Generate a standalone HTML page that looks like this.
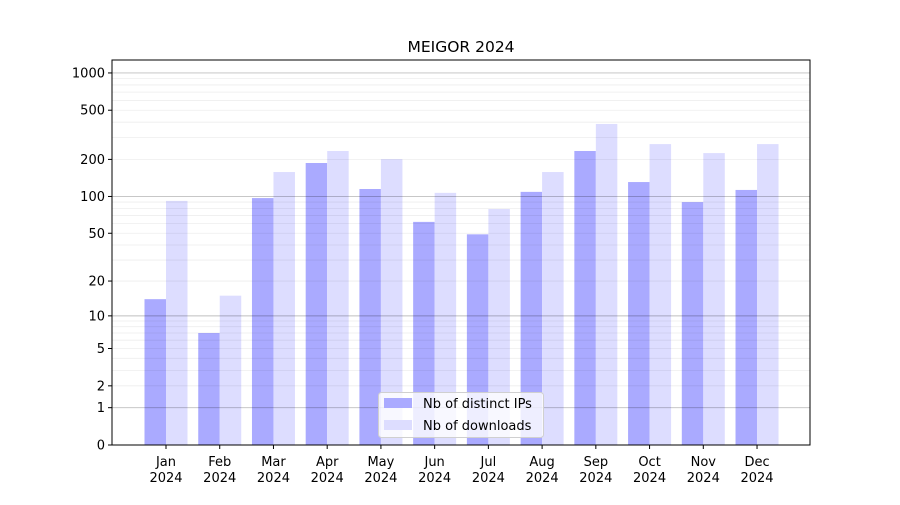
<!DOCTYPE html>
<html><head><meta charset="utf-8"><style>
body{margin:0;background:#fff}
svg text{font-family:"DejaVu Sans","Liberation Sans",sans-serif;fill:#000}
</style></head><body>
<svg id="chart" width="900" height="500" xmlns="http://www.w3.org/2000/svg">
<rect width="900" height="500" fill="#fff"/>
<text x="461" y="52" font-size="15.5" text-anchor="middle">MEIGOR 2024</text>
<g id="bars"></g><g id="grid"></g><g id="axes"></g>
</svg>
<script>
const months=["Jan","Feb","Mar","Apr","May","Jun","Jul","Aug","Sep","Oct","Nov","Dec"];
const distinctIPs=[14,7,97,187,115,62,49,109,234,131,90,113];
const downloads=[92,15,158,234,201,107,79,158,387,266,225,266];
const yTicks=[0,1,2,5,10,20,50,100,200,500,1000];
const NS="http://www.w3.org/2000/svg";
const L=112,R=810,T=60,B=445;
function y(v){return B-124*Math.log10(1+v);}
function x(i){return 166+i*53.73;}
function mk(p,tag,a){const e=document.createElementNS(NS,tag);for(const k in a)e.setAttribute(k,a[k]);p.appendChild(e);return e;}
const grid=document.getElementById('grid'),bars=document.getElementById('bars'),axes=document.getElementById('axes');
for(let d=1;d<=1000;d*=10){for(let m=1;m<10;m++){const v=d*m;if(y(v)<T)break;
 const g=mk(grid,'line',{x1:L,x2:R,y1:y(v),y2:y(v),stroke:m===1?'#000':'#000','stroke-opacity':m===1?0.25:0.07,'stroke-width':m===1?0.9:0.8});
 
 }}
const bw=21.5;
months.forEach((mo,i)=>{
 const a=mk(bars,'rect',{x:x(i)-bw,y:y(distinctIPs[i]),width:bw,height:B-y(distinctIPs[i]),fill:'#aaaaff'});
 
 
 const b=mk(bars,'rect',{x:x(i),y:y(downloads[i]),width:bw,height:B-y(downloads[i]),fill:'#ddddff'});
 
 
 mk(axes,'line',{x1:x(i),x2:x(i),y1:B,y2:B+4,stroke:'#000'});
 const t=mk(axes,'text',{x:x(i),y:B+21,'font-size':13,'text-anchor':'middle'});t.textContent=mo;
 
 
 const t2=mk(axes,'text',{x:x(i),y:B+37,'font-size':13,'text-anchor':'middle'});t2.textContent='2024';
 
 
});
yTicks.forEach(v=>{
 mk(axes,'line',{x1:L-4,x2:L,y1:y(v),y2:y(v),stroke:'#000'});
 const t=mk(axes,'text',{x:L-7,y:y(v)+4.5,'font-size':13,'text-anchor':'end'});t.textContent=v;
 
 
});
const fr=mk(axes,'rect',{x:L,y:T,width:R-L,height:B-T,fill:'none',stroke:'#000','stroke-width':1});


const lg=mk(axes,'g',{});


mk(lg,'rect',{x:378.5,y:392.5,width:165,height:45,rx:3,fill:'#fff','fill-opacity':0.8,stroke:'#d0d0d0'});
mk(lg,'rect',{x:384,y:398,width:28,height:10,fill:'#aaaaff'});
mk(lg,'rect',{x:384,y:420,width:28,height:10,fill:'#ddddff'});
const l1=mk(lg,'text',{x:423,y:408,'font-size':13});l1.textContent='Nb of distinct IPs';


const l2=mk(lg,'text',{x:423,y:430,'font-size':13});l2.textContent='Nb of downloads';


</script>
</body></html>
